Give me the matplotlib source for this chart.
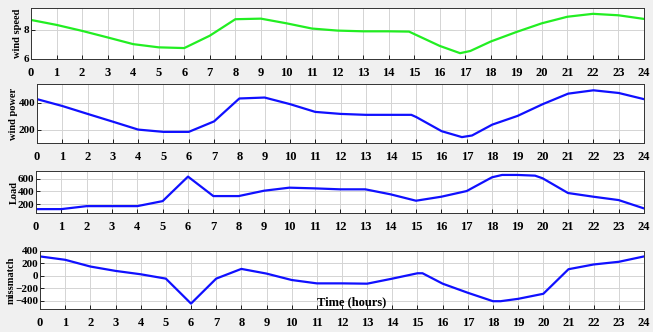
import matplotlib
matplotlib.use("Agg")
import matplotlib.pyplot as plt

hours_ticks = list(range(0, 25))

speed_x = [0, 1, 2, 3, 4, 5, 6, 7, 8, 9, 10, 11, 12, 13, 14, 14.8, 16, 16.8, 17.2, 18, 19, 20, 21, 22, 23, 24]
speed_y = [8.68, 8.34, 7.93, 7.48, 7.02, 6.8, 6.75, 7.6, 8.73, 8.77, 8.45, 8.09, 7.95, 7.9, 7.9, 7.88, 6.9, 6.4, 6.55, 7.2, 7.85, 8.45, 8.9, 9.1, 9.0, 8.75]

power_x = [0, 1, 2, 3, 4, 5, 6, 7, 8, 9, 10, 11, 12, 13, 14, 14.8, 15, 16, 16.8, 17.2, 18, 19, 20, 21, 22, 23, 24]
power_y = [427, 376, 317, 259, 200, 183, 183, 261, 432, 439, 390, 332, 317, 310, 310, 310, 293, 188, 144, 156, 237, 302, 390, 468, 493, 473, 427]

load_x = [0, 1, 2, 3, 4, 5, 6, 7, 8, 9, 10, 11, 12, 13, 14, 15, 16, 17, 18, 18.4, 19, 19.7, 20, 21, 22, 23, 24]
load_y = [121, 121, 168, 168, 168, 247, 632, 326, 326, 410, 458, 447, 432, 432, 353, 253, 316, 405, 621, 658, 658, 647, 605, 374, 316, 263, 132]

mis_x = [0, 1, 2, 3, 4, 5, 6, 7, 8, 9, 10, 11, 12, 13, 14, 15, 15.2, 16, 17, 18, 18.3, 19, 20, 21, 22, 23, 24]
mis_y = [313, 259, 151, 81, 27, -43, -443, -43, 113, 38, -65, -119, -119, -124, -43, 43, 43, -124, -270, -405, -405, -367, -286, 108, 184, 227, 313]

W, H = 653, 332
fig = plt.figure(figsize=(W / 100, H / 100), dpi=100, facecolor="#f0f0f0")

serif = "Liberation Serif"

def px_axes(left, right, top, bottom):
    return fig.add_axes([left / W, 1 - bottom / H, (right - left) / W, (bottom - top) / H])

panels = [
    (31, 644, 8, 59, speed_x, speed_y, "#22ee22", (6, 9.5), [6, 8], "wind speed", 18),
    (37, 644, 84, 143, power_x, power_y, "#1010ff", (100, 540), [200, 400], "wind power", 13),
    (36, 644, 171, 213, load_x, load_y, "#1010ff", (60, 720), [200, 400, 600], "Load", 14),
    (40, 644, 251, 309, mis_x, mis_y, "#1010ff", (-530, 400), [-400, -200, 0, 200, 400], "missmatch", 11),
]

for (l, r, t, b, xs, ys, col, ylim, yt, lab, lx) in panels:
    ax = px_axes(l, r, t, b)
    ax.set_facecolor("white")
    ax.plot(xs, ys, color=col, lw=1.6)
    ax.set_xlim(0, 24)
    ax.set_ylim(*ylim)
    ax.set_xticks(hours_ticks)
    ax.set_yticks(yt)
    ax.grid(True, color="#d4d4d4", lw=0.7)
    ax.set_axisbelow(True)
    for s in ax.spines.values():
        s.set_color("#333333")
        s.set_linewidth(0.7)
    ax.tick_params(direction="in", length=3, width=0.6, labelsize=9)
    ax.tick_params(axis="x", pad=6)
    ax.tick_params(axis="y", pad=1, labelsize=8)
    for lbl in ax.get_xticklabels() + ax.get_yticklabels():
        lbl.set_fontfamily(serif)
        lbl.set_fontweight("bold")
    fig.text(lx / W, 1 - ((t + b) / 2) / H, lab, rotation=90, ha="center", va="center",
             fontfamily=serif, fontweight="bold", fontsize=7.5)

fig.text(317 / W, 1 - 302 / H, "Time (hours)", ha="left", va="center",
         fontfamily=serif, fontweight="bold", fontsize=9)

fig.savefig("out.png", dpi=100, facecolor=fig.get_facecolor())
